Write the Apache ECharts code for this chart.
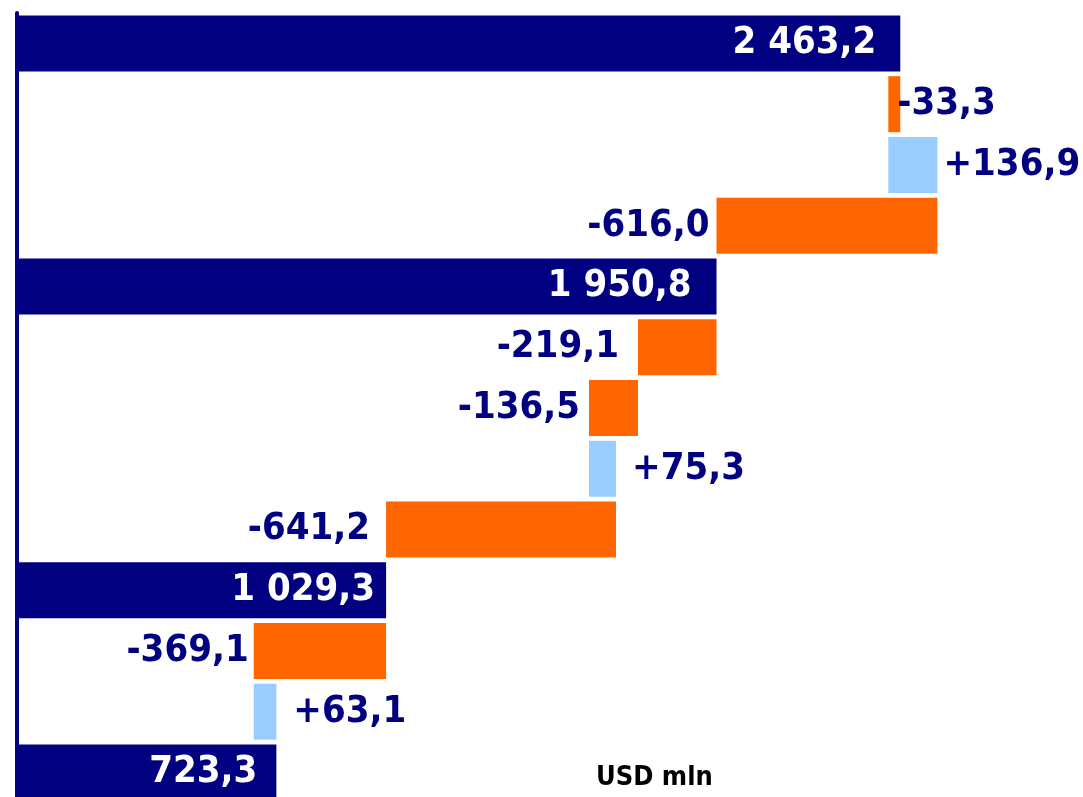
<!DOCTYPE html>
<html>
<head>
<meta charset="utf-8">
<script src="https://cdn.jsdelivr.net/npm/echarts@6/dist/echarts.min.js"></script>
<style>
  html, body { margin: 0; padding: 0; background: #fff; overflow: hidden; }
  /* a bit taller than the window: the last bar is cut by the bottom edge */
  #chart { width: 1083px; height: 803px; }
</style>
</head>
<body>
<div id="chart"></div>
<script>
// waterfall steps, top to bottom
var steps = ['s1', 's2', 's3', 's4', 's5', 's6', 's7', 's8', 's9', 's10', 's11', 's12', 's13'];
var values = [2463.2, -33.3, 136.9, -616.0, 1950.8, -219.1, -136.5, 75.3, -641.2, 1029.3, -369.1, 63.1, 723.3];
var isTotal = [true, false, false, false, true, false, false, false, false, true, false, false, true];
var unitText = 'USD mln';

// label gap from bar edge (px)
var labelGap = [24, -3, 6, 7, 25, 19, 9, 16, 16, 11, 5, 17, 19];

var NAVY = '#000080', ORANGE = '#FF6600', LIGHT = '#99CCFF';
var FONT = "'DejaVu Sans Condensed', 'DejaVu Sans', sans-serif";

function fmt(v, total) {
  var s = Math.abs(v).toFixed(1).split('.');
  var intPart = s[0].replace(/\B(?=(\d{3})+(?!\d))/g, ' ');
  var txt = intPart + ',' + s[1];
  if (total) return txt;
  return (v < 0 ? '-' : '+') + txt;
}

var baseData = [];
var barData = [];
var running = 0;
for (var i = 0; i < values.length; i++) {
  var v = values[i];
  var base, len, color, pos, labelColor;
  if (isTotal[i]) {
    base = 0; len = v; running = v;
    color = NAVY; pos = 'insideRight'; labelColor = '#fff';
  } else if (v < 0) {
    running += v; base = running; len = -v;
    color = ORANGE; pos = len < 50 ? 'right' : 'left'; labelColor = NAVY;
  } else {
    base = running; len = v; running += v;
    color = LIGHT; pos = 'right'; labelColor = NAVY;
  }
  baseData.push(base);
  barData.push({
    value: len,
    itemStyle: { color: color },
    label: {
      show: true,
      position: pos,
      distance: labelGap[i],
      color: labelColor,
      formatter: fmt(v, isTotal[i])
    }
  });
}

var myChart = echarts.init(document.getElementById('chart'));
var option = {
  animation: false,
  grid: { left: 17, right: 1, top: 13, bottom: 0 },
  xAxis: {
    type: 'value',
    min: 0,
    max: 2970,
    show: false
  },
  yAxis: {
    type: 'category',
    inverse: true,
    data: steps,
    axisLine: { show: true, lineStyle: { color: NAVY, width: 4 } },
    axisTick: { show: false },
    axisLabel: { show: false },
    splitLine: { show: false }
  },
  series: [
    {
      type: 'bar',
      stack: 'w',
      barWidth: 56,
      itemStyle: { color: 'transparent' },
      silent: true,
      data: baseData
    },
    {
      type: 'bar',
      stack: 'w',
      barWidth: 56,
      label: {
        fontFamily: FONT,
        fontWeight: 'bold',
        fontSize: 38
      },
      data: barData
    }
  ],
  graphic: [
    {
      type: 'text',
      left: 596,
      top: 764,
      style: {
        text: unitText,
        fill: '#000',
        font: "bold 27px " + FONT
      }
    }
  ]
};
myChart.setOption(option);
</script>
</body>
</html>
